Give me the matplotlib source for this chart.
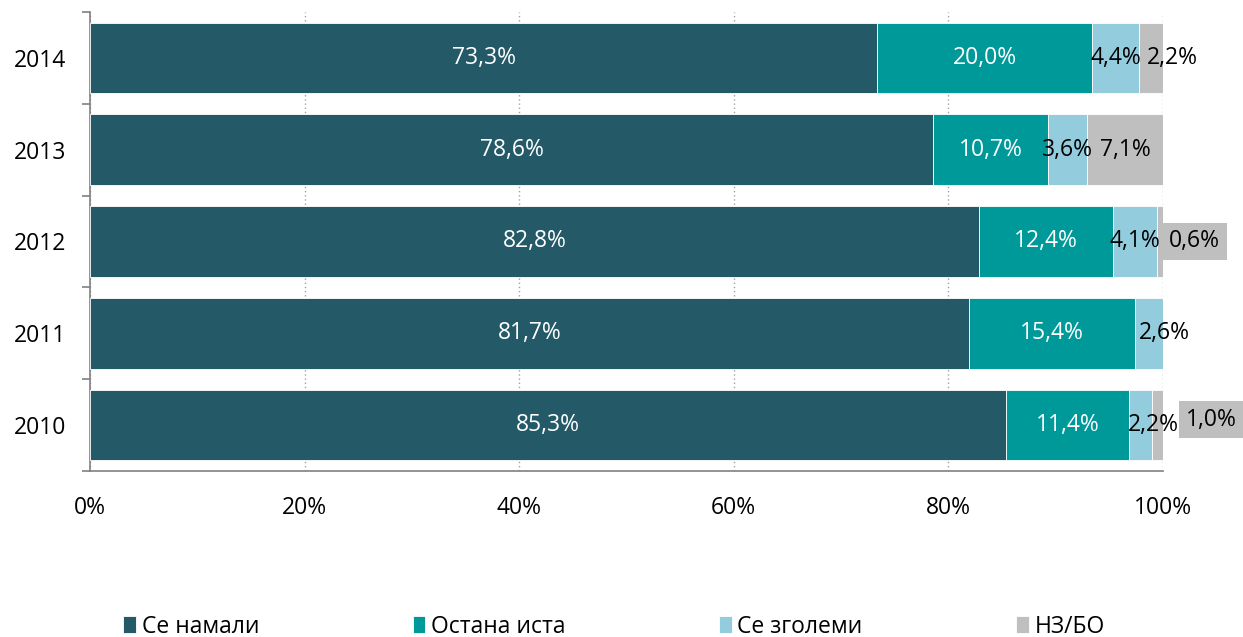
import numpy as np
import matplotlib.pyplot as plt

plt.rcParams['font.family'] = ['Open Sans', 'DejaVu Sans']

years = ['2014', '2013', '2012', '2011', '2010']
se_namali = [73.3, 78.6, 82.8, 81.7, 85.3]
ostana_ista = [20.0, 10.7, 12.4, 15.4, 11.4]
se_zgolemi = [4.4, 3.6, 4.1, 2.6, 2.2]
nz_bo = [2.2, 7.1, 0.6, 0.0, 1.0]

series = [se_namali, ostana_ista, se_zgolemi, nz_bo]
names = ['Се намали', 'Остана иста', 'Се зголеми', 'НЗ/БО']
colors = ['#245968', '#009999', '#93CDDD', '#BFBFBF']
text_colors = ['white', 'white', 'black', 'black']

# label offsets (points) for the narrow segments, as in the original
offsets = {(0, 3): (15, 0), (3, 2): (11, 0), (4, 2): (9, 0),
           (2, 3): (25, 0), (4, 3): (39, 4)}
boxed = {(2, 3), (4, 3)}

data = np.array(series, dtype=float)
totals = data.sum(axis=0)
shares = data / totals * 100

fig = plt.figure(figsize=(12.43, 6.37), dpi=100)
ax = fig.add_axes([90 / 1243, 1 - 471 / 637, 1073 / 1243, 459 / 637])

y = np.arange(len(years))
left = np.zeros(len(years))
for s in range(len(series)):
    ax.barh(y, shares[s], left=left, height=0.77, color=colors[s],
            edgecolor='white', linewidth=0.6, label=names[s], zorder=3)
    for i in range(len(years)):
        v = series[s][i]
        if v <= 0:
            continue
        cx = left[i] + shares[s][i] / 2
        dx, dy = offsets.get((i, s), (0, 0))
        kw = {}
        if (i, s) in boxed:
            kw['bbox'] = dict(boxstyle='square,pad=0.3', fc='#BFBFBF', ec='none')
        ax.annotate(f'{v:.1f}%'.replace('.', ','), xy=(cx, y[i]),
                    xytext=(dx, dy), textcoords='offset points',
                    ha='center', va='center', fontsize=16.5,
                    color=text_colors[s], zorder=5, annotation_clip=False, **kw)
    left += shares[s]

ax.set_xlim(0, 100)
ax.set_ylim(len(years) - 0.5, -0.5)
ax.set_xticks(np.arange(0, 101, 20))
ax.set_xticklabels([f'{t}%' for t in range(0, 101, 20)])
ax.set_yticks(y)
ax.set_yticklabels(years)
ax.set_yticks(np.arange(-0.5, len(years), 1), minor=True)
ax.tick_params(axis='y', which='major', length=0, pad=17, labelsize=16.5)
ax.tick_params(axis='y', which='minor', length=6, width=1.2, color='#808080')
ax.tick_params(axis='x', length=0, pad=18, labelsize=16.5)

ax.grid(axis='x', linestyle=(0, (1, 2)), color='#A0A0A0', linewidth=1, zorder=0)
for sp in ['top', 'right']:
    ax.spines[sp].set_visible(False)
for sp in ['left', 'bottom']:
    ax.spines[sp].set_color('#808080')
    ax.spines[sp].set_linewidth(1.2)

fig.legend(loc='center', bbox_to_anchor=(0.494, 0.016), ncol=4, frameon=False,
           fontsize=16.5, handlelength=0.55, handleheight=0.75,
           handletextpad=0.25, columnspacing=6.7)

plt.savefig('out.png', dpi=100)
